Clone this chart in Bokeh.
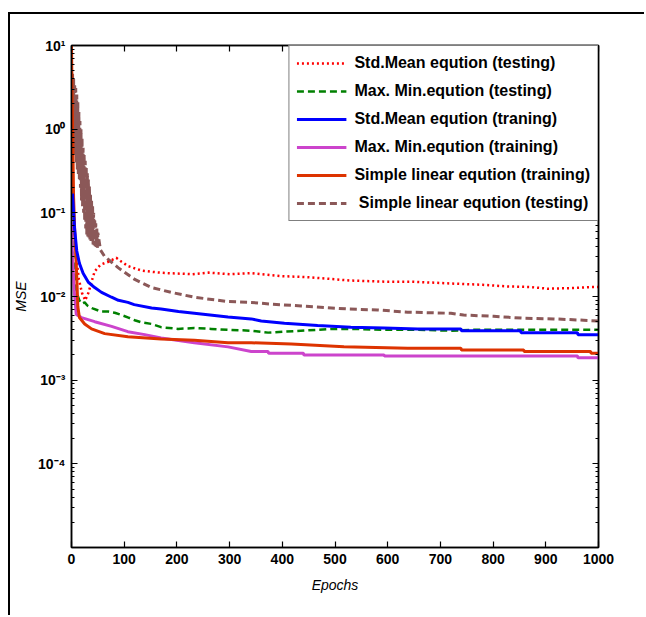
from bokeh.plotting import figure
from bokeh.models import (Range1d, FixedTicker, LogAxis, LinearAxis, CustomJSTickFormatter)
from bokeh.embed import file_html
from bokeh.resources import INLINE

# ---------------- data ----------------
x_ticks = [0, 100, 200, 300, 400, 500, 600, 700, 800, 900, 1000]
y_ticks = [1e-4, 1e-3, 1e-2, 1e-1, 1e0, 1e1]

# Std.Mean eqution (testing) - red dotted
std_test_ep = [0, 1, 2, 3, 4, 6, 9, 14, 20, 26, 32, 38, 44, 55, 70, 85, 95, 108, 133, 160, 184,
               230, 260, 300, 341, 400, 450, 530, 600, 650, 720, 780, 827, 870, 903, 950, 990, 1000]
std_test_mse = [0.45, 0.3, 0.2, 0.15, 0.1, 0.06, 0.03, 0.016, 0.011, 0.009, 0.011, 0.015, 0.02,
                0.024, 0.026, 0.029, 0.026, 0.023, 0.0204, 0.0195, 0.019, 0.0185, 0.0193, 0.0185,
                0.019, 0.0175, 0.017, 0.0155, 0.015, 0.015, 0.0143, 0.0138, 0.0132, 0.013, 0.0124,
                0.0126, 0.013, 0.013]

# Max. Min.eqution (testing) - green dashed
mm_test_ep = [0, 2, 5, 10, 15, 19, 25, 30, 40, 57, 70, 82, 95, 108, 120, 133, 152, 170, 202, 233,
              265, 297, 341, 373, 404, 498, 530, 593, 657, 720, 760, 852, 1000]
mm_test_mse = [0.063, 0.04, 0.02, 0.011, 0.009, 0.0082, 0.0085, 0.0078, 0.0072, 0.0066, 0.0066,
               0.0064, 0.006, 0.0056, 0.0052, 0.0049, 0.0047, 0.0043, 0.0041, 0.0042, 0.0041,
               0.0040, 0.0039, 0.0037, 0.0038, 0.0041, 0.0041, 0.0040, 0.0040, 0.0039, 0.0040,
               0.0040, 0.0040]

# Std.Mean eqution (traning) - blue
std_train_ep = [2, 4, 6, 10, 15, 22, 32, 44, 57, 76, 89, 107, 119, 152, 170, 203, 233, 297, 341,
                360, 404, 467, 530, 593, 657, 739, 740, 852, 853, 960, 961, 1000]
std_train_mse = [0.17, 0.1, 0.063, 0.035, 0.025, 0.019, 0.0148, 0.0128, 0.0112, 0.0098, 0.0090,
                 0.0085, 0.0080, 0.0073, 0.0071, 0.0066, 0.0063, 0.0057, 0.0054, 0.0051, 0.0048,
                 0.0045, 0.0043, 0.0042, 0.0041, 0.0041, 0.0039, 0.0039, 0.0037, 0.0037, 0.0035,
                 0.0035]

# Max. Min.eqution (training) - magenta
mm_train_ep = [0, 2, 5, 9, 19, 44, 76, 107, 139, 170, 233, 297, 341, 373, 374, 440, 441, 593,
               594, 960, 961, 1000]
mm_train_mse = [0.076, 0.03, 0.012, 0.0061, 0.0056, 0.005, 0.0044, 0.0038, 0.0035, 0.0032, 0.0028,
                0.0025, 0.0022, 0.0022, 0.0021, 0.0021, 0.0020, 0.0020, 0.00195, 0.00195,
                0.00185, 0.00185]

# Simple linear eqution (training) - orange red
sl_train_ep = [0, 1, 2, 3, 4, 6, 9, 12, 15, 25, 38, 63, 107, 170, 233, 297, 341, 417, 517, 638,
               720, 739, 740, 858, 859, 985, 986, 1000]
sl_train_mse = [10, 3, 1, 0.4, 0.15, 0.063, 0.025, 0.0076, 0.0056, 0.0047, 0.0041, 0.0036, 0.0033,
                0.0031, 0.0030, 0.0028, 0.0028, 0.0027, 0.0025, 0.0024, 0.0024, 0.0024, 0.0023,
                0.0023, 0.0022, 0.0022, 0.0021, 0.0021]

# Simple linear eqution (testing) - brown dashed (noisy at the start)
sl_test_ep = [0, 1, 2, 3, 4, 5, 6, 7, 8, 9, 10, 11, 12, 13, 14, 15, 16, 17, 18, 19, 20,
              21, 22, 23, 24, 25, 26, 27, 28, 29, 30, 31, 32, 33, 34, 35, 36, 37, 38, 39, 40,
              41, 42, 43, 44, 45, 46, 47, 48, 49, 50,
              55, 63, 75, 89, 120, 152, 189, 233, 297, 341, 379, 436, 524, 581, 638, 720, 744,
              801, 858, 915, 972, 1000]
sl_test_mse = [4.8, 1.2, 4.6, 0.8, 4.0, 0.55, 3.5, 0.5, 3.1, 0.4, 2.6, 0.33, 2.1, 0.28, 1.6,
               0.24, 1.25, 0.2, 1.0, 0.14, 0.8, 0.12, 0.6, 0.1, 0.5, 0.08, 0.42, 0.065, 0.35,
               0.055, 0.3, 0.052, 0.25, 0.05, 0.21, 0.048, 0.17, 0.046, 0.145, 0.044, 0.12,
               0.042, 0.1, 0.041, 0.085, 0.04, 0.075, 0.039, 0.065, 0.038, 0.058,
               0.036, 0.030, 0.026, 0.022, 0.016, 0.0128, 0.0112, 0.0098, 0.0087, 0.0085, 0.0081,
               0.0077, 0.0071, 0.0069, 0.0065, 0.0063, 0.0060, 0.0058, 0.0055, 0.0054, 0.0052,
               0.0051]

labels = ["Std.Mean eqution (testing)", "Max. Min.eqution (testing)",
          "Std.Mean eqution (traning)", "Max. Min.eqution (training)",
          "Simple linear eqution (training)", " Simple linear eqution (testing)"]

# ---------------- figure ----------------
FONT = "Liberation Sans"

p = figure(width=636, height=603, x_axis_type="linear", y_axis_type="log",
           x_range=Range1d(0, 1000), y_range=Range1d(1e-5, 10),
           output_backend="svg", toolbar_location=None,
           min_border_left=60, min_border_right=48, min_border_top=31, min_border_bottom=70,
           margin=(12, 0, 0, 8),
           styles={"border-top": "2px solid #000", "border-left": "2px solid #000"})

p.xgrid.visible = False
p.ygrid.visible = False
p.outline_line_color = "black"
p.outline_line_width = 1.5
p.background_fill_color = "white"
p.border_fill_color = "white"

sup_code = """
const e = Math.round(Math.log10(tick));
const sup = {'-':'\u207b','0':'\u2070','1':'\u00b9','2':'\u00b2','3':'\u00b3','4':'\u2074',
             '5':'\u2075','6':'\u2076','7':'\u2077','8':'\u2078','9':'\u2079'};
return '10' + String(e).split('').map(c => sup[c]).join('');
"""

minor = [k * 10.0 ** d for d in range(-5, 1) for k in range(2, 10)]

def yticker():
    return FixedTicker(ticks=y_ticks, minor_ticks=minor)

def xticker():
    return FixedTicker(ticks=x_ticks)

# left axis
ya = p.yaxis[0]
ya.ticker = yticker()
ya.formatter = CustomJSTickFormatter(code=sup_code)
ya.axis_label = "MSE"
ya.axis_label_text_font = FONT
ya.axis_label_text_font_style = "italic"
ya.axis_label_text_font_size = "14px"
ya.axis_label_standoff = 6

# bottom axis
xa = p.xaxis[0]
xa.ticker = xticker()
xa.axis_label = "Epochs"
xa.axis_label_text_font = FONT
xa.axis_label_text_font_style = "italic"
xa.axis_label_text_font_size = "14px"
xa.axis_label_standoff = 10

for ax in (ya, xa):
    ax.major_label_text_font = FONT
    ax.major_label_text_font_style = "bold"
    ax.major_label_text_font_size = "14px"
    ax.major_label_text_color = "black"
    ax.axis_label_text_color = "black"
ya.major_label_standoff = 6
xa.major_label_standoff = 6

# box axes (ticks only, no labels)
ra = LogAxis(ticker=yticker(), major_label_text_alpha=0.0, major_label_standoff=0)
ta = LinearAxis(ticker=xticker(), major_label_text_alpha=0.0, major_label_standoff=0)
p.add_layout(ra, "right")
p.add_layout(ta, "above")

for ax in (ya, xa, ra, ta):
    ax.axis_line_color = "black"
    ax.axis_line_width = 1.5
    ax.major_tick_line_color = "black"
    ax.major_tick_line_width = 1.2
    ax.major_tick_in = 6
    ax.major_tick_out = 0
    ax.minor_tick_line_color = "black"
    ax.minor_tick_in = 3
    ax.minor_tick_out = 0

# ---------------- lines ----------------
p.line(sl_test_ep, sl_test_mse, color="#8b5858", line_width=3, line_dash="7 4",
       legend_label=labels[5])
p.line(mm_test_ep, mm_test_mse, color="#008000", line_width=2.5, line_dash="7 4",
       legend_label=labels[1])
p.line(std_test_ep, std_test_mse, color="#ff0000", line_width=2.5, line_dash="2 3",
       legend_label=labels[0])
p.line(mm_train_ep, mm_train_mse, color="#cc44cc", line_width=3, legend_label=labels[3])
p.line(sl_train_ep, sl_train_mse, color="#dd3300", line_width=3, legend_label=labels[4])
p.line(std_train_ep, std_train_mse, color="#0000ff", line_width=3, legend_label=labels[2])

# legend order as in reference
lg = p.legend[0]
items = {it.label.value: it for it in lg.items}
lg.items = [items[l] for l in labels]

lg.location = "top_right"
lg.margin = 0
lg.padding = 7
lg.spacing = 8
lg.glyph_width = 50
lg.glyph_height = 20
lg.label_height = 20
lg.label_standoff = 8
lg.label_text_font = FONT
lg.label_text_font_style = "bold"
lg.label_text_font_size = "16px"
lg.label_text_color = "black"
lg.border_line_color = "black"
lg.border_line_width = 1.2
lg.background_fill_color = "white"
lg.background_fill_alpha = 1.0

open("out.html", "w").write(file_html(p, INLINE))
